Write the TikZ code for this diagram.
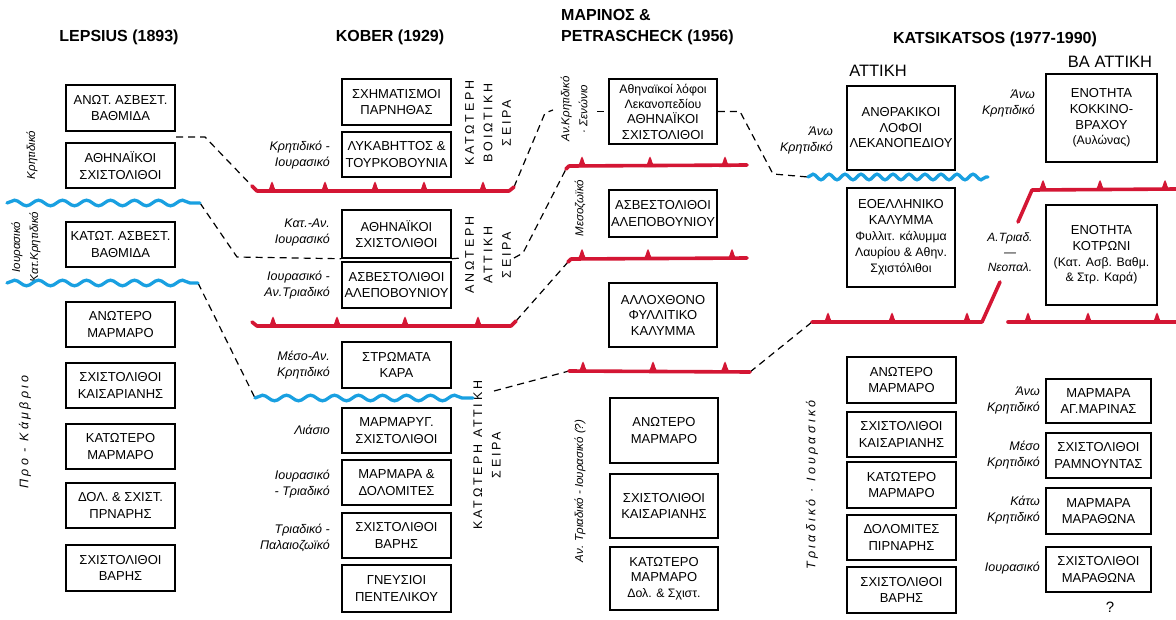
\documentclass[tikz,border=0pt]{standalone}
\usepackage{fontspec}
\setmainfont{Liberation Sans}
\newfontfamily\capsp[LetterSpace=22]{Liberation Sans}
\newfontfamily\itsp[LetterSpace=26]{Liberation Sans}
\usetikzlibrary{decorations.pathmorphing}
\definecolor{faultred}{RGB}{212,22,52}
\definecolor{waveblue}{RGB}{25,160,225}
\newcommand\stratbox[7][]{\node[unit,#1,minimum width={(#4)-(#2)},minimum height={(#5)-(#3)}] (#6) at ({((#2)+(#4))/2},{((#3)+(#5))/2}) {#7};}
\newcommand\faultteeth[2]{\foreach \t in {#2}{\fill[faultred] (\t-6,#1+1) .. controls (\t-2,#1) and (\t-2.2,#1-7) .. (\t,#1-9.5) .. controls (\t+2.2,#1-7) and (\t+2,#1) .. (\t+6,#1+1) -- cycle;}}
\newcommand\lcx{\fontsize{12.3}{15}\selectfont}
\tikzset{
  unit/.style={draw,line width=1.5pt,align=center,inner sep=0pt,font=\fontsize{13}{16.5}\selectfont},
  tight/.style={font=\fontsize{13}{15.5}\selectfont},
  title/.style={font=\bfseries\fontsize{16}{21}\selectfont,inner sep=0pt},
  region/.style={font=\fontsize{16.5}{20}\selectfont,inner sep=0pt},
  ital/.style={font=\itshape\fontsize{12.5}{16}\selectfont,align=right,anchor=east,inner sep=0pt},
  rotlab/.style={font=\itshape\fontsize{11.5}{18}\selectfont,rotate=90,align=center,inner sep=0pt},
  rotsp/.style={font=\itsp\itshape\fontsize{12.5}{18}\selectfont,rotate=90,align=center,inner sep=0pt},
  vcaps/.style={font=\capsp\fontsize{12.5}{18.5}\selectfont,rotate=90,align=center,inner sep=0pt},
  fault/.style={faultred,line width=3.6pt,line cap=round,line join=round},
  wave/.style={waveblue,line width=3.3pt,line cap=round,decorate,decoration={snake,segment length=24pt,amplitude=2.8pt}},
  swave/.style={wave,decoration={snake,segment length=16pt,amplitude=2.8pt}},
  dsh/.style={black,line width=1.2pt,dash pattern=on 7pt off 5pt}
}
\begin{document}
\begin{tikzpicture}[x=1pt,y=-1pt]
\fill[white] (0,0) rectangle (1176,619);
\useasboundingbox (0,0) rectangle (1176,619);

% ---------- titles ----------
\node[title] (tlep) at (119,37) {LEPSIUS (1893)};
\node[title] (tkob) at (390,37) {KOBER (1929)};
\node[title,anchor=west,align=left] (tmar) at (561,27) {ΜΑΡΙΝΟΣ \&\\PETRASCHECK (1956)};
\node[title] (tkat) at (995,39) {KATSIKATSOS (1977-1990)};
\node[region] (attiki) at (878,71) {ΑΤΤΙΚΗ};
\node[region] (baattiki) at (1110,62) {ΒΑ ΑΤΤΙΚΗ};

% ---------- Lepsius ----------
\stratbox{66}{85}{175}{131}{lep1}{ΑΝΩΤ. ΑΣΒΕΣΤ.\\ΒΑΘΜΙΔΑ}
\stratbox{66}{143}{175}{188}{lep2}{ΑΘΗΝΑΪΚΟΙ\\ΣΧΙΣΤΟΛΙΘΟΙ}
\stratbox{66}{222}{175}{267}{lep3}{ΚΑΤΩΤ. ΑΣΒΕΣΤ.\\ΒΑΘΜΙΔΑ}
\stratbox{66}{302}{175}{347}{lep4}{ΑΝΩΤΕΡΟ\\ΜΑΡΜΑΡΟ}
\stratbox{66}{363}{175}{408}{lep5}{ΣΧΙΣΤΟΛΙΘΟΙ\\ΚΑΙΣΑΡΙΑΝΗΣ}
\stratbox{66}{424}{175}{469}{lep6}{ΚΑΤΩΤΕΡΟ\\ΜΑΡΜΑΡΟ}
\stratbox{66}{483}{175}{528}{lep7}{ΔΟΛ. \& ΣΧΙΣΤ.\\ΠΡΝΑΡΗΣ}
\stratbox{66}{545}{175}{591}{lep8}{ΣΧΙΣΤΟΛΙΘΟΙ\\ΒΑΡΗΣ}
\node[rotlab] (llab1) at (32,155) {Κρητιδικό};
\node[rotlab] (llab2) at (26,247) {Ιουρασικό\\Κατ.Κρητιδικό};
\node[rotsp] (llab3) at (25,432) {Προ - Κάμβριο};

% ---------- Kober ----------
\stratbox{342}{79}{451}{125}{kob1}{ΣΧΗΜΑΤΙΣΜΟΙ\\ΠΑΡΝΗΘΑΣ}
\stratbox{342}{132}{451}{177}{kob2}{ΛΥΚΑΒΗΤΤΟΣ \&\\ΤΟΥΡΚΟΒΟΥΝΙΑ}
\stratbox{342}{210}{451}{258}{kob3}{ΑΘΗΝΑΪΚΟΙ\\ΣΧΙΣΤΟΛΙΘΟΙ}
\stratbox{342}{262}{451}{308}{kob4}{ΑΣΒΕΣΤΟΛΙΘΟΙ\\ΑΛΕΠΟΒΟΥΝΙΟΥ}
\stratbox{342}{342}{451}{388}{kob5}{ΣΤΡΩΜΑΤΑ\\ΚΑΡΑ}
\stratbox{342}{408}{451}{453}{kob6}{ΜΑΡΜΑΡΥΓ.\\ΣΧΙΣΤΟΛΙΘΟΙ}
\stratbox{342}{460}{451}{505}{kob7}{ΜΑΡΜΑΡΑ \&\\ΔΟΛΟΜΙΤΕΣ}
\stratbox{342}{513}{451}{558}{kob8}{ΣΧΙΣΤΟΛΙΘΟΙ\\ΒΑΡΗΣ}
\stratbox{342}{565}{451}{612}{kob9}{ΓΝΕΥΣΙΟΙ\\ΠΕΝΤΕΛΙΚΟΥ}
\node[ital] (klab1) at (330,155) {Κρητιδικό -\\Ιουρασικό};
\node[ital] (klab2) at (330,232) {Κατ.-Αν.\\Ιουρασικό};
\node[ital] (klab3) at (330,285) {Ιουρασικό -\\Αν.Τριαδικό};
\node[ital] (klab4) at (330,365) {Μέσο-Αν.\\Κρητιδικό};
\node[ital] (klab5) at (330,430) {Λιάσιο};
\node[ital] (klab6) at (330,484) {Ιουρασικό\\- Τριαδικό};
\node[ital] (klab7) at (330,538) {Τριαδικό -\\Παλαιοζωϊκό};
\node[vcaps] (ser1) at (488,123) {ΚΑΤΩΤΕΡΗ\\ΒΟΙΩΤΙΚΗ\\ΣΕΙΡΑ};
\node[vcaps] (ser2) at (488,255) {ΑΝΩΤΕΡΗ\\ΑΤΤΙΚΗ\\ΣΕΙΡΑ};
\node[vcaps] (ser3) at (487,455) {ΚΑΤΩΤΕΡΗ ΑΤΤΙΚΗ\\ΣΕΙΡΑ};

% ---------- Marinos & Petrascheck ----------
\stratbox[font=\fontsize{13}{15.3}\selectfont]{609}{79}{717}{144}{mar1}{{\lcx Αθηναϊκοί λόφοι}\\{\lcx Λεκανοπεδίου}\\ΑΘΗΝΑΪΚΟΙ\\ΣΧΙΣΤΟΛΙΘΟΙ}
\stratbox{609}{190}{717}{237}{mar2}{ΑΣΒΕΣΤΟΛΙΘΟΙ\\ΑΛΕΠΟΒΟΥΝΙΟΥ}
\stratbox[tight]{609}{283}{717}{347}{mar3}{ΑΛΛΟΧΘΟΝΟ\\ΦΥΛΛΙΤΙΚΟ\\ΚΑΛΥΜΜΑ}
\stratbox{610}{398}{718}{463}{mar4}{ΑΝΩΤΕΡΟ\\ΜΑΡΜΑΡΟ}
\stratbox{610}{474}{718}{538}{mar5}{ΣΧΙΣΤΟΛΙΘΟΙ\\ΚΑΙΣΑΡΙΑΝΗΣ}
\stratbox[tight]{610}{547}{718}{610}{mar6}{ΚΑΤΩΤΕΡΟ\\ΜΑΡΜΑΡΟ\\{\lcx Δολ. \& Σχιστ.}}
\node[rotlab] (mlab1) at (574,109) {Αν.Κρητιδικό\\· Σενώνιο};
\node[rotlab] (mlab2) at (580,208) {Μεσοζωϊκό};
\node[rotlab] (mlab3) at (580,491) {Αν. Τριαδικό - Ιουρασικό (?)};

% ---------- Katsikatsos ----------
\stratbox[tight]{847}{86}{955}{170}{kat1}{ΑΝΘΡΑΚΙΚΟΙ\\ΛΟΦΟΙ\\ΛΕΚΑΝΟΠΕΔΙΟΥ}
\stratbox[font=\fontsize{13}{16}\selectfont]{847}{188}{955}{287}{kat2}{ΕΟΕΛΛΗΝΙΚΟ\\ΚΑΛΥΜΜΑ\\{\lcx Φυλλιτ. κάλυμμα}\\{\lcx Λαυρίου \& Αθην.}\\{\lcx Σχιστόλιθοι}}
\stratbox{847}{357}{956}{403}{kat3}{ΑΝΩΤΕΡΟ\\ΜΑΡΜΑΡΟ}
\stratbox{847}{412}{956}{457}{kat4}{ΣΧΙΣΤΟΛΙΘΟΙ\\ΚΑΙΣΑΡΙΑΝΗΣ}
\stratbox{847}{462}{956}{508}{kat5}{ΚΑΤΩΤΕΡΟ\\ΜΑΡΜΑΡΟ}
\stratbox{847}{515}{956}{560}{kat6}{ΔΟΛΟΜΙΤΕΣ\\ΠΙΡΝΑΡΗΣ}
\stratbox{847}{567}{956}{613}{kat7}{ΣΧΙΣΤΟΛΙΘΟΙ\\ΒΑΡΗΣ}
\stratbox[font=\fontsize{13}{15.7}\selectfont]{1046}{74}{1157}{162}{kr1}{ΕΝΟΤΗΤΑ\\ΚΟΚΚΙΝΟ-\\ΒΡΑΧΟΥ\\{\lcx (Αυλώνας)}}
\stratbox[font=\fontsize{13}{15.7}\selectfont]{1046}{205}{1157}{305}{kr2}{ΕΝΟΤΗΤΑ\\ΚΟΤΡΩΝΙ\\{\lcx (Κατ. Ασβ. Βαθμ.}\\{\lcx \& Στρ. Καρά)}}
\stratbox{1046}{379}{1151}{423}{kr3}{ΜΑΡΜΑΡΑ\\ΑΓ.ΜΑΡΙΝΑΣ}
\stratbox{1046}{433}{1151}{478}{kr4}{ΣΧΙΣΤΟΛΙΘΟΙ\\ΡΑΜΝΟΥΝΤΑΣ}
\stratbox{1046}{488}{1151}{534}{kr5}{ΜΑΡΜΑΡΑ\\ΜΑΡΑΘΩΝΑ}
\stratbox{1046}{547}{1151}{592}{kr6}{ΣΧΙΣΤΟΛΙΘΟΙ\\ΜΑΡΑΘΩΝΑ}
\node[ital] (alab1) at (833,140) {Άνω\\Κρητιδικό};
\node[ital] (alab2) at (1035,103) {Άνω\\Κρητιδικό};
\node[font=\itshape\fontsize{12}{15}\selectfont,align=center,inner sep=0pt] (alab3) at (1010,252) {Α.Τριαδ.\\—\\Νεοπαλ.};
\node[ital] (alab4) at (1040,400) {Άνω\\Κρητιδικό};
\node[ital] (alab5) at (1040,455) {Μέσο\\Κρητιδικό};
\node[ital] (alab6) at (1040,510) {Κάτω\\Κρητιδικό};
\node[ital] (alab7) at (1040,568) {Ιουρασικό};
\node[rotsp] (alab8) at (812,485) {Τριαδικό · Ιουρασικό};
\node[font=\fontsize{15}{18}\selectfont,inner sep=0pt] (qm) at (1110,607) {?};

% ---------- line end points ----------
\coordinate (lb1a) at (7,203);   \coordinate (lb1b) at (200,203);
\coordinate (lb2a) at (7,283);   \coordinate (lb2b) at (198,283);
\coordinate (kba) at (255,398);  \coordinate (kbb) at (473,398);
\coordinate (kaba) at (808,177); \coordinate (kabb) at (988,177);
\coordinate (kr1a) at (252,186); \coordinate (kr1b) at (514,187);
\coordinate (kr2a) at (252,322); \coordinate (kr2b) at (516,321);
\coordinate (mr1a) at (566,169); \coordinate (mr1b) at (747,165);
\coordinate (mr2a) at (568,262); \coordinate (mr2b) at (747,258);
\coordinate (mr3a) at (569,371); \coordinate (mr3b) at (750,372);
\coordinate (kar1a) at (812,322); \coordinate (kar1b) at (982,322); \coordinate (kar1c) at (1000,282);
\coordinate (kar2a) at (1018,222); \coordinate (kar2b) at (1032,190); \coordinate (kar2c) at (1176,189);
\coordinate (kar3a) at (1008,322); \coordinate (kar3b) at (1176,322);
\coordinate (d1a) at (176,137); \coordinate (d1b) at (205,137);
\coordinate (d2a) at (237,257); \coordinate (d2b) at (461,258);
\coordinate (d2c) at (514,258); \coordinate (d2d) at (523,253);
\coordinate (d3a) at (545,113); \coordinate (d3b) at (553,110); \coordinate (d3c) at (597,111.5);
\coordinate (d6a) at (494,391);
\coordinate (d7a) at (740,111.5); \coordinate (d7b) at (773,174);

% ---------- dashed correlation lines ----------
\draw[dsh] (d1a) -- (d1b) -- (kr1a);
\draw[dsh] (lb1b) -- (d2a) -- (kob3.south west);
\draw[dsh] (kob3.south east) -- (d2b);
\draw[dsh] (d2c) -- (d2d) -- (mr1a);
\draw[dsh] (kr1b) -- (d3a) -- (d3b);
\draw[dsh] (d3c) -- (mar1.west);
\draw[dsh] (lb2b) -- (kba);
\draw[dsh] (kr2b) -- (mr2a);
\draw[dsh] (d6a) -- (mr3a);
\draw[dsh] (mar1.east) -- (d7a) -- (d7b) -- (kaba);
\draw[dsh] (mr3b) -- (kar1a);

% ---------- unconformities (blue) ----------
\draw[wave] (lb1a) -- (lb1b);
\draw[wave] (lb2a) -- (lb2b);
\draw[wave] (kba) -- (kbb);
\draw[swave] (kaba) -- (kabb);

% ---------- thrusts (red) ----------
\draw[fault] (kr1a) -- ++(5,5) -- ++(252,0) -- (kr1b);  \faultteeth{191}{272,325,375,424,483}
\draw[fault] (kr2a) -- ++(5,4) -- ++(254,0) -- (kr2b);  \faultteeth{326}{273,337,405,478}
\draw[fault] (mr1a) -- ++(3,-3) -- (mr1b);  \faultteeth{166}{582,650,725}
\draw[fault] (mr2a) -- ++(3,-3) -- (mr2b);  \faultteeth{258.5}{582,648,732}
\draw[fault] (mr3a) -- (mr3b);  \faultteeth{371}{583,653,725}
\draw[fault] (kar1a) -- (kar1b) -- (kar1c); \faultteeth{322}{828,892,967}
\draw[fault] (kar2a) -- (kar2b) -- (kar2c); \faultteeth{189.5}{1043,1100,1165}
\draw[fault] (kar3a) -- (kar3b); \faultteeth{322}{1028,1088,1157}
\end{tikzpicture}
\end{document}
